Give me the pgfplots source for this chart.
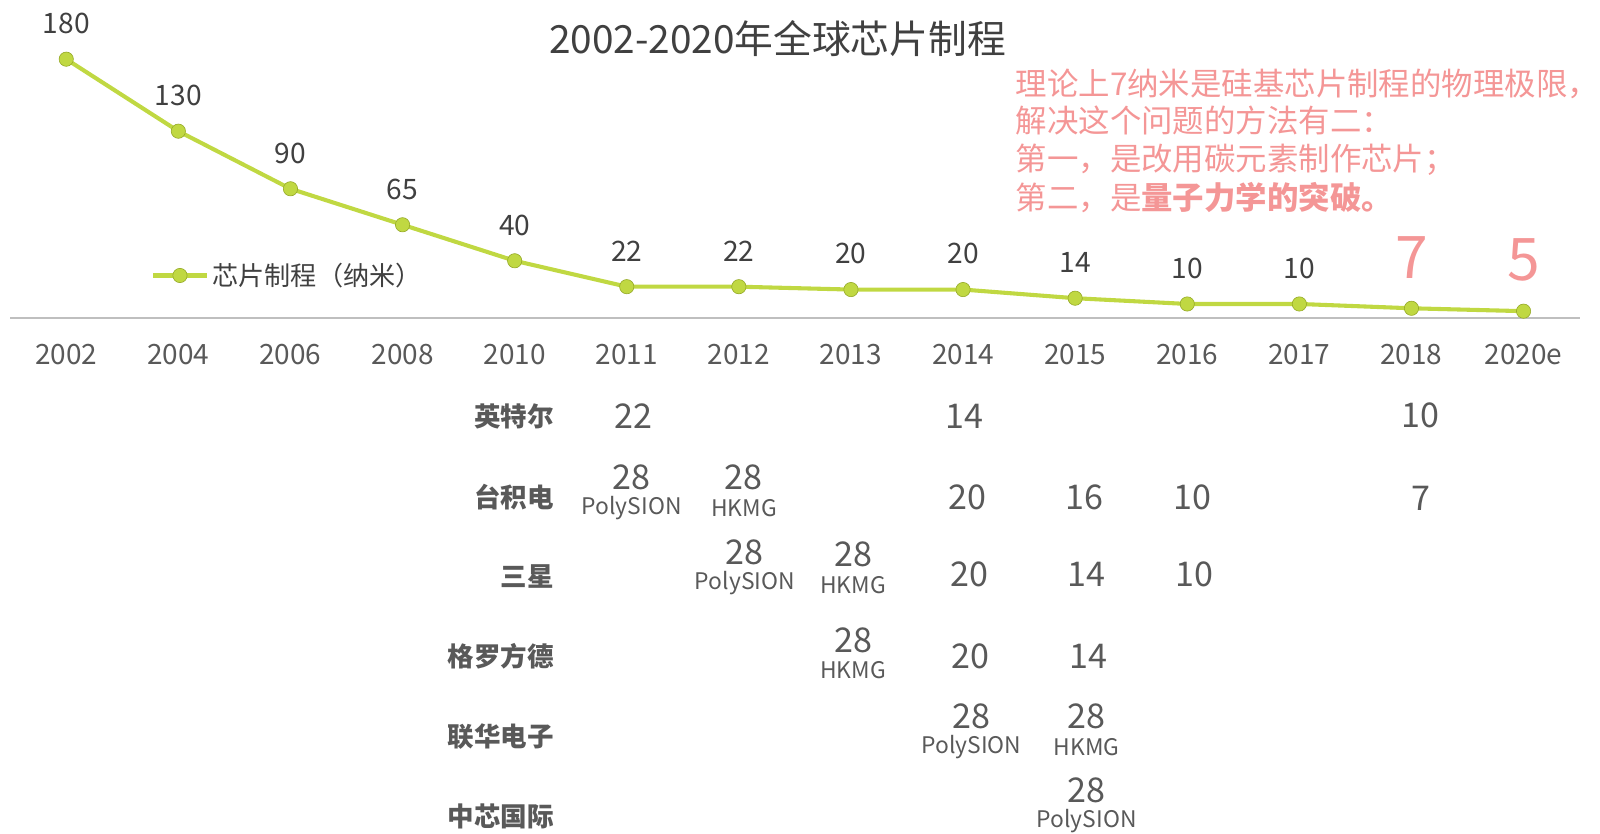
\documentclass[border=0pt]{standalone}
\usepackage{fontspec}
\setmainfont{Noto Sans CJK SC}
\usepackage{pgfplots}
\usepackage{pgfplotstable}
\pgfplotsset{compat=1.18}
\definecolor{lineg}{RGB}{192,216,66}
\definecolor{markb}{RGB}{150,170,40}
\definecolor{pinkc}{RGB}{244,150,150}
\definecolor{txt}{RGB}{64,64,64}
\definecolor{tickc}{RGB}{89,89,89}
\definecolor{axg}{RGB}{191,191,191}

\pgfplotstableread{
x y
0 180
1 130
2 90
3 65
4 40
5 22
6 22
7 20
8 20
9 14
10 10
11 10
12 7
13 5
}\chipdata

\newcommand\cell[4][16.7]{\node[text=tickc,font=\fontsize{#1}{#1}\selectfont,anchor=center,inner sep=0pt] at (axis cs:#2,0) [yshift={(312-#3)*0.5pt}] {#4};}
\newcommand\sub[3]{\node[text=tickc,font=\fontsize{11.2}{12}\selectfont,anchor=center,inner sep=0pt] at (axis cs:#1,0) [yshift={(312-#2)*0.5pt}] {#3};}
\newcommand\rowlab[2]{\node[text=tickc,font=\fontsize{13}{14}\selectfont\bfseries,anchor=east,inner sep=0pt] at (axis cs:4.351,0) [yshift={(312-#1)*0.5pt}] {#2};}

\begin{document}
\begin{tikzpicture}
\path[use as bounding box] (-5pt,156pt) rectangle (779pt,-252.5pt);
\begin{axis}[
  at={(0,0)}, anchor=south west,
  width=769pt, height=127pt, scale only axis,
  xmin=-0.5, xmax=13.5, ymin=0, ymax=180,
  clip=false,
  axis x line*=bottom, axis y line=none,
  axis line style={draw=axg, line width=1pt},
  xtick={0,...,13},
  xticklabels={2002,2004,2006,2008,2010,2011,2012,2013,2014,2015,2016,2017,2018,2020e},
  major tick length=0pt,
  xticklabel style={font=\fontsize{13.7}{15}\selectfont, text=tickc, anchor=center, yshift=-17.5pt},
  legend style={at={(0.0897,0.1654)}, anchor=west, draw=none, fill=none, inner sep=0pt,
    font=\fontsize{12.8}{14}\selectfont, text=txt, cells={anchor=west}},
  legend image code/.code={\draw[mark repeat=2,mark phase=2,#1] plot coordinates {(0pt,0pt) (13pt,0pt) (26pt,0pt)};},
]
\addplot[color=lineg, line width=2pt, mark=*, mark size=3.5pt,
  mark options={fill=lineg, draw=markb, line width=0.3pt}] table[x=x,y=y] {\chipdata};
\addlegendentry{芯片制程（纳米）}

\addplot[draw=none, mark=none, forget plot, restrict x to domain=0:11,
  point meta=explicit symbolic, nodes near coords,
  nodes near coords style={anchor=center, yshift=17.5pt, text=txt, font=\fontsize{13.8}{15}\selectfont}]
  table[x=x,y=y,meta=y] {\chipdata};
\addplot[draw=none, mark=none, forget plot, restrict x to domain=12:13,
  point meta=explicit symbolic, nodes near coords,
  nodes near coords style={anchor=center, yshift=25pt, text=pinkc, font=\fontsize{28.8}{30}\selectfont}]
  table[x=x,y=y,meta=y] {\chipdata};

% company table
\rowlab{408}{英特尔}
\rowlab{487}{台积电}
\rowlab{565}{三星}
\rowlab{643}{格罗方德}
\rowlab{722}{联华电子}
\rowlab{800}{中芯国际}

\cell{5.061}{408}{22}
\cell{8.011}{408}{14}
\cell{12.080}{407}{10}

\cell{5.043}{468}{28}\sub{5.043}{498}{PolySION}
\cell{6.045}{468}{28}\sub{6.045}{498}{HKMG}
\cell{8.038}{487}{20}
\cell{9.085}{487}{16}
\cell{10.050}{487}{10}
\cell{12.089}{488}{7}

\cell{6.054}{541}{28}\sub{6.054}{571}{PolySION}
\cell{7.019}{543}{28}\sub{7.019}{573}{HKMG}
\cell{8.056}{563}{20}
\cell{9.103}{563}{14}
\cell{10.068}{563}{10}

\cell{7.019}{628}{28}\sub{7.019}{657}{HKMG}
\cell{8.066}{643}{20}
\cell{9.121}{643}{14}

\cell{8.075}{702}{28}\sub{8.075}{732}{PolySION}
\cell{9.103}{702}{28}\sub{9.103}{732}{HKMG}

\cell{9.103}{775}{28}\sub{9.103}{805}{PolySION}
\end{axis}

% title
\node[text=txt, font=\fontsize{19}{21}\selectfont, anchor=center, inner sep=0pt] at (376pt,137pt) {2002-2020年全球芯片制程};

% annotation
\begin{scope}[every node/.style={text=pinkc, font=\fontsize{15.4}{17}\selectfont, anchor=base west, inner sep=0pt}]
\node at (492.5pt,109pt) {理论上7纳米是硅基芯片制程的物理极限，};
\node at (492.5pt,91pt) {解决这个问题的方法有二：};
\node at (492.5pt,72.5pt) {第一，是改用碳元素制作芯片；};
\node at (492.5pt,53.5pt) {第二，是{\bfseries 量子力学的突破。}};
\end{scope}
\end{tikzpicture}
\end{document}
